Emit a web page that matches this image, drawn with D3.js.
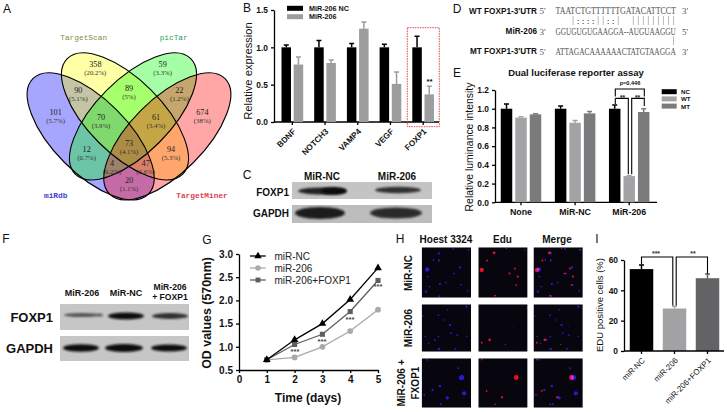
<!DOCTYPE html>
<html>
<head>
<meta charset="utf-8">
<script src="https://cdn.jsdelivr.net/npm/d3@7"></script>
<style>
  html, body { margin: 0; padding: 0; background: #fff; }
  svg { display: block; }
  text { font-family: "Liberation Sans", Arial, sans-serif; fill: #111; }
  .domain, .tick line { stroke: #000; stroke-width: 1.3; }
  .bold { font-weight: bold; }
</style>
</head>
<body>
<script>
const w = 727;
const h = 412;

// ---- data ----
const vennCounts = ["358","59","90","89","22","101","70","61","674","73","12","94","4","47","20"];
const vennPercents = ["(20.2%)","(3.3%)","(5.1%)","(5%)","(1.2%)","(5.7%)","(3.9%)","(3.4%)","(38%)","(4.1%)","(0.7%)","(5.3%)","(0.2%)","(2.6%)","(1.1%)"];
const vennSets = ["miRdb","TargetScan","picTar","TargetMiner"];

const genes = ["BDNF","NOTCH3","VAMP4","VEGF","FOXP1"];
const bSeries = ["MiR-206 NC","MiR-206"];
const bNC = [1,1,1,1,1];
const bNCErr = [0.03,0.09,0.05,0.04,0.15];
const b206 = [0.77,0.79,1.25,0.51,0.37];
const b206Err = [0.1,0.04,0.09,0.16,0.11];

const seqWT = "TAATCTGTTTTTTGATACATTCCT";
const seqMiR = "GGUGUGUGAAGGA--AUGUAAGGU";
const seqMT = "ATTAGACAAAAAACTATGTAAGGA";
const seqPairs = "   |::::||::|  |||||||||";

const eGroups = ["None","MiR-NC","MiR-206"];
const eSeries = ["NC","WT","MT"];
const eNC = [1,1,1];
const eNCErr = [0.05,0.03,0.04];
const eWT = [0.905,0.85,0.28];
const eWTErr = [0.01,0.025,0.005];
const eMT = [0.94,0.95,0.965];
const eMTErr = [0.005,0.02,0.035];

const days = [1,2,3,4,5];
const gSeries = ["miR-NC","miR-206","miR-206+FOXP1"];
const gNC = [0.72,1.15,1.5,2.02,2.7];
const g206 = [0.72,0.77,1.0,1.34,1.8];
const gFoxp1 = [0.72,1.05,1.27,1.76,2.43];

const iGroups = ["miR-NC","miR-206","miR-206+FOXP1"];
const iValues = [54,28,48];
const iErrs = [2.7,1.5,2.8];

// cells in panel H, percent of the image: [x, y, size]
const hoechst = [
  [[11,44,3],[35,12,1.6],[24,25,1.2],[35,26,1.5],[64,3,1.2],[78,40,1.6],[95,5,1.2],[66,52,1.2],[12,58,1.2],[37,73,1.6],[49,70,1.2],[16,78,1.2],[9,88,1.5],[36,97,1.3],[80,74,1.3],[93,86,1.2]],
  [[34,23,1.2],[57,44,1.5],[45,33,1],[2,24,1],[91,5,1.5],[72,65,1.2],[59,61,1.2],[34,68,1.2],[27,75,1.3],[14,82,1],[35,94,1.7],[68,94,1.3],[52,12,1],[91,68,1],[7,68,1]],
  [[11,3,1.2],[81,39,3.6],[86,71,2.8],[52,80,2.2],[74,20,1.2],[37,56,1.7],[22,64,1.5],[5,74,1.3],[39,93,1.5]]
];
const edu = [
  [[7,45,3],[32,11,2],[18,26,1.4],[74,42,1.4],[63,52,1.4],[80,58,1.6],[77,75,1.3],[34,96,1.2],[94,5,.8],[57,2,.8]],
  [[7,81,1.3],[23,75,1.9],[55,85,.8],[71,47,.6],[98,8,.7]],
  [[77,39,3.4],[17,66,1.2],[48,79,1.6],[34,93,1],[7,3,1]]
];

const svg = d3.select("body").append("svg").attr("width", w).attr("height", h);
const defs = svg.append("defs");
[0.6, 1.2, 2].forEach((s) => {
  defs.append("filter").attr("id", "blur" + String(s).replace(".", ""))
    .attr("x", "-30%").attr("y", "-60%").attr("width", "160%").attr("height", "220%")
    .append("feGaussianBlur").attr("stdDeviation", s);
});

function label(x, y, str, size, opts) {
  opts = opts || {};
  const t = svg.append("text")
    .attr("x", x).attr("y", y)
    .attr("font-size", size)
    .attr("text-anchor", opts.anchor || "middle")
    .attr("dominant-baseline", "central")
    .text(str);
  if (opts.bold) t.classed("bold", true);
  if (opts.color) t.style("fill", opts.color);
  if (opts.font) t.style("font-family", opts.font);
  if (opts.rotate) t.attr("transform", `rotate(${opts.rotate} ${x} ${y})`);
  return t;
}

// panel letters
[["A",7,9],["B",247,8],["C",247,175],["D",457,9],["E",457,73],["F",6,239],["G",207,240],["H",400,239],["I",597,239]]
  .forEach((d) => label(d[1], d[2], d[0], 12));

// ---- A: venn ----
const vennFont = '"Liberation Serif", serif';
const vx = d3.scaleLinear().domain([0, 720]).range([0, 240]);
const vy = d3.scaleLinear().domain([0, 660]).range([0, 220]);
const vennShapes = [
  { cx: 272, cy: 409, a: 45, c: "#0000ff" },
  { cx: 375, cy: 349, a: 45, c: "#ffff00" },
  { cx: 399, cy: 349, a: -45, c: "#00ff00" },
  { cx: 502, cy: 409, a: -45, c: "#ff0000" }
];
const vennRx = 245;
const vennRy = 111;
svg.selectAll("ellipse.venn").data(vennShapes).join("ellipse").attr("class", "venn")
  .attr("rx", vx(vennRx)).attr("ry", vy(vennRy))
  .attr("transform", (d) => `translate(${vx(d.cx)},${vy(d.cy)}) rotate(${d.a})`)
  .attr("fill", (d) => d.c).attr("fill-opacity", 0.35);
svg.selectAll("ellipse.vennline").data(vennShapes).join("ellipse").attr("class", "vennline")
  .attr("rx", vx(vennRx)).attr("ry", vy(vennRy))
  .attr("transform", (d) => `translate(${vx(d.cx)},${vy(d.cy)}) rotate(${d.a})`)
  .attr("fill", "none").attr("stroke", "#000").attr("stroke-width", 1.1);
const vennSpots = [[286,193],[488,193],[235,270],[387,264],[538,270],[167,336],[303,353],[468,353],[607,336],[387,430],[260,447],[513,447],[336,490],[437,490],[387,540]];
vennCounts.forEach((c, i) => {
  label(vx(vennSpots[i][0]), vy(vennSpots[i][1]), c, 8.2, { font: vennFont, color: "#222" });
  label(vx(vennSpots[i][0]), vy(vennSpots[i][1] + 24), vennPercents[i], 6.8, { font: vennFont, color: "#333" });
});
const setSpots = [[167,588,"#3c3cd8"],[251,113,"#8a8a48"],[521,113,"#2f9f62"],[606,588,"#e0404f"]];
vennSets.forEach((s, i) => label(vx(setSpots[i][0]), vy(setSpots[i][1]), s, 7.8, { font: '"Liberation Mono", monospace', color: setSpots[i][2], bold: i === 0 || i === 3 }));

// bars with a one sided error whisker
function bars(x, y, values, errs, color, barW, offset) {
  const g = svg.append("g");
  values.forEach((v, i) => {
    const cx = x(i) + offset;
    g.append("rect").attr("x", cx - barW / 2).attr("y", y(v))
      .attr("width", barW).attr("height", y(0) - y(v)).attr("fill", color);
    g.append("path")
      .attr("d", `M${cx},${y(v)}V${y(v + errs[i])}M${cx - 2.5},${y(v + errs[i])}H${cx + 2.5}`)
      .attr("stroke", color).attr("stroke-width", 1.5).attr("fill", "none");
  });
}

function yAxis(x, scale, values, fmt, size) {
  const g = svg.append("g").attr("transform", `translate(${x},0)`)
    .call(d3.axisLeft(scale).tickValues(values).tickFormat(fmt).tickSize(3).tickSizeOuter(0));
  g.selectAll("text").attr("font-size", size).attr("font-weight", "bold");
  return g;
}

// ---- B ----
const bY = d3.scaleLinear().domain([0, 1.5]).range([122, 10]);
const bX = d3.scaleBand().domain(d3.range(genes.length)).range([276, 439.5]);
const bOff = 6.1;
yAxis(274, bY, [0, 0.5, 1, 1.5], d3.format(".1f"), 8.4);
svg.append("path").attr("d", `M274,122H439`).attr("stroke", "#000").attr("stroke-width", 1.3);
bars((i) => bX(i) + bX.bandwidth() / 2, bY, bNC, bNCErr, "#000", 9.5, -6.1);
bars((i) => bX(i) + bX.bandwidth() / 2, bY, b206, b206Err, "#9d9d9f", 9.5, bOff);
genes.forEach((g, i) => {
  const cx = bX(i) + bX.bandwidth() / 2;
  svg.append("path").attr("d", `M${cx},122v3`).attr("stroke", "#000").attr("stroke-width", 1.3);
  label(cx, 128, g, 8.2, { anchor: "end", bold: true, rotate: -45 }).attr("dominant-baseline", "hanging");
});
label(248, 71, "Relative expression", 11.2, { rotate: -90 });
bSeries.forEach((s, i) => {
  svg.append("rect").attr("x", 287).attr("y", 5.8 + i * 8.4).attr("width", 16).attr("height", 5).attr("fill", i ? "#9d9d9f" : "#000");
  label(309, 8.3 + i * 8.4, s, 7.2, { anchor: "start", bold: true });
});
svg.append("rect").attr("x", 407.3).attr("y", 27.7).attr("width", 32).attr("height", 99)
  .attr("fill", "none").attr("stroke", "#d6333a").attr("stroke-width", 0.9).attr("stroke-dasharray", "1.5,1");
label(429.6, 81, "**", 8, { bold: true });

// western blot strip: background plus blurred dark bands
function blot(x, y, bw, bh, bg, bands) {
  svg.append("rect").attr("x", x).attr("y", y).attr("width", bw).attr("height", bh).attr("fill", bg);
  const clipId = "clip" + Math.round(x) + "_" + Math.round(y);
  defs.append("clipPath").attr("id", clipId).append("rect").attr("x", x).attr("y", y).attr("width", bw).attr("height", bh);
  const g = svg.append("g").attr("clip-path", `url(#${clipId})`);
  bands.forEach((b) => {
    g.append("ellipse").attr("cx", b[0]).attr("cy", b[1]).attr("rx", b[2]).attr("ry", b[3])
      .attr("fill", b[4]).attr("filter", "url(#blur12)");
  });
}

// ---- C ----
blot(292, 182, 140, 17, "#c4c4c4", [[322,191,24,3.5,"#222"],[334,191,13,3.8,"#111"],[398,190,23,3.3,"#333"]]);
blot(292, 205, 140, 18, "#bdbdbd", [[320,213,25,6,"#1a1a1a"],[396,213,26,5.5,"#2a2a2a"]]);
label(289, 192, "FOXP1", 10, { anchor: "end", bold: true });
label(289, 213, "GAPDH", 10, { anchor: "end", bold: true });
label(322, 176, "MiR-NC", 10, { bold: true });
label(397, 176, "MiR-206", 10, { bold: true });

// ---- D ----
const seqFont = '"Liberation Serif", serif';
const seqX = d3.scaleBand().domain(d3.range(24)).range([555.5, 676]);
function seqRow(name, seq, y, left, right) {
  label(537, y, name, 8.2, { anchor: "end", bold: true });
  label(539.5, y, left, 9, { anchor: "start", font: seqFont, color: "#555" });
  label(682, y, right, 9, { anchor: "start", font: seqFont, color: "#555" });
  // squeeze the letters to the width of the alignment columns
  const t = label(0, 0, seq, 9.5, { anchor: "start", font: seqFont, color: "#555" });
  const k = 120.5 / t.node().getComputedTextLength();
  t.attr("transform", `translate(555.5,${y}) scale(${k},1)`);
}
seqRow("WT FOXP1-3'UTR", seqWT, 11, "5'", "3'");
seqRow("MiR-206", seqMiR, 31.5, "3'", "5'");
seqRow("MT FOXP1-3'UTR", seqMT, 51.5, "5'", "3'");
seqPairs.split("").forEach((p, i) => {
  const cx = seqX(i) + seqX.bandwidth() / 2;
  if (p === "|") svg.append("path").attr("d", `M${cx},16V25`).attr("stroke", "#a9a9a9").attr("stroke-width", 0.8);
  if (p === ":") label(cx, 21, ":", 7, { bold: true, color: "#444" });
});
svg.append("path").attr("d", `M${seqX(23) + 2.5},36V45`).attr("stroke", "#a9a9a9").attr("stroke-width", 0.8);

// ---- E ----
const eY = d3.scaleLinear().domain([0, 1.2]).range([202.3, 90]);
const eCenter = (i) => 521 + i * 54.1;
const eColors = ["#000", "#a3a3a5", "#7b7b7d"];
yAxis(495, eY, [0, 0.2, 0.4, 0.6, 0.8, 1, 1.2], d3.format(".1f"), 8.4);
svg.append("path").attr("d", "M495,202.3H657").attr("stroke", "#000").attr("stroke-width", 1.3);
bars(eCenter, eY, eNC, eNCErr, eColors[0], 11.5, -14.5);
bars(eCenter, eY, eWT, eWTErr, eColors[1], 11.5, 0);
bars(eCenter, eY, eMT, eMTErr, eColors[2], 11.5, 14.5);
eGroups.forEach((g, i) => {
  svg.append("path").attr("d", `M${eCenter(i)},202.3v3`).attr("stroke", "#000").attr("stroke-width", 1.3);
  label(eCenter(i), 212, g, 8.8, { bold: true });
});
label(469, 147, "Relative luminance intensity", 10.4, { rotate: -90 });
label(576, 72, "Dual luciferase reporter assay", 9.5, { bold: true });
label(630, 83, "p=0.446", 5.6, { bold: true });
const eBrackets = `M615.3,${eY(1.13)}V${eY(1.21)}H644.3V${eY(1.13)}` +
  `M615.3,${eY(1.11)}V${eY(1.05)}M615.3,${eY(1.11)}H628.3V${eY(0.3)}M631.7,${eY(0.3)}V${eY(1.11)}H644.3V${eY(1.03)}`;
svg.append("path").attr("d", eBrackets).attr("fill", "none").attr("stroke", "#000").attr("stroke-width", 1.1);
label(622.5, 97, "**", 6.5, { bold: true });
label(637.5, 97, "**", 6.5, { bold: true });
eSeries.forEach((s, i) => {
  svg.append("rect").attr("x", 661.7).attr("y", 89.2 + i * 7.2).attr("width", 15).attr("height", 5).attr("fill", eColors[i]);
  label(681, 91.7 + i * 7.2, s, 6.2, { anchor: "start", bold: true });
});

// ---- F ----
blot(60, 304, 129, 26, "#c6c6c6", [[82,315,18,2,"#555"],[100,315,3,1.6,"#666"],[126,316,18,3.5,"#111"],[170,316,18,3,"#333"]]);
blot(60, 336, 129, 25, "#c6c6c6", [[81,348,18,3.8,"#111"],[124,348,19,4,"#0c0c0c"],[169,348,18,3.5,"#111"]]);
label(53, 317, "FOXP1", 13, { anchor: "end", bold: true });
label(53, 348, "GAPDH", 13, { anchor: "end", bold: true });
label(82, 293, "MiR-206", 9, { bold: true });
label(126, 293, "MiR-NC", 9, { bold: true });
label(170, 286.5, "MiR-206", 8.6, { bold: true });
label(170, 297, "+ FOXP1", 8.6, { bold: true });

// ---- G ----
const gX = d3.scaleLinear().domain([0, 5]).range([239, 378]);
const gY = d3.scaleLinear().domain([0.5, 3]).range([370, 254]);
const gColors = ["#000", "#a9a9a9", "#5e5e5e"];
const gData = [gNC, g206, gFoxp1];
const symbols = [d3.symbolTriangle, d3.symbolCircle, d3.symbolSquare];
const line = d3.line().x((d) => gX(d.day)).y((d) => gY(d.v));
[1, 2, 0].forEach((k) => {
  const pts = days.map((d, i) => ({ day: d, v: gData[k][i] }));
  svg.append("path").attr("d", line(pts)).attr("fill", "none").attr("stroke", gColors[k]).attr("stroke-width", 1.3);
  svg.selectAll(null).data(pts).join("path")
    .attr("d", d3.symbol().type(symbols[k]).size(26))
    .attr("transform", (d) => `translate(${gX(d.day)},${gY(d.v)})`)
    .attr("fill", gColors[k]);
});
yAxis(239, gY, [0.5, 1, 1.5, 2, 2.5, 3], d3.format(".1f"), 10);
const gAxX = svg.append("g").attr("transform", "translate(0,370)")
  .call(d3.axisBottom(gX).tickValues([0, 1, 2, 3, 4, 5]).tickFormat(d3.format("d")).tickSize(3).tickSizeOuter(0));
gAxX.selectAll("text").attr("font-size", 10).attr("font-weight", "bold");
[[295, 351], [322, 341], [350, 319], [378, 286]].forEach((p) => label(p[0], p[1], "***", 7.5, { bold: true, color: "#444" }));
gSeries.forEach((s, i) => {
  const yy = 256 + i * 12;
  svg.append("path").attr("d", `M250,${yy}H265.7`).attr("stroke", gColors[i]).attr("stroke-width", 1.3);
  svg.append("path").attr("d", d3.symbol().type(symbols[i]).size(24)).attr("transform", `translate(258,${yy})`).attr("fill", gColors[i]);
  label(274.5, yy, s, 10, { anchor: "start", color: "#222" });
});
label(207, 313, "OD values (570nm)", 12.4, { bold: true, rotate: -90 });
label(308, 398, "Time (days)", 12, { bold: true });

// ---- H ----
const hCols = [[421.7, "b"], [478.3, "r"], [533.5, "m"]];
const hRows = [[247.3, 50.4], [304.3, 47.4], [358.3, 49.4]];
const hW = 49.3;
hRows.forEach((r, ri) => {
  hCols.forEach((c) => {
    const clipId = `cell${ri}${c[1]}`;
    defs.append("clipPath").attr("id", clipId).append("rect").attr("x", c[0]).attr("y", r[0]).attr("width", hW).attr("height", r[1]);
    const g = svg.append("g").attr("clip-path", `url(#${clipId})`).style("isolation", "isolate");
    g.append("rect").attr("x", c[0]).attr("y", r[0]).attr("width", hW).attr("height", r[1]).attr("fill", "#07050e");
    const px = d3.scaleLinear().domain([0, 100]).range([c[0], c[0] + hW]);
    const py = d3.scaleLinear().domain([0, 100]).range([r[0], r[0] + r[1]]);
    const spots = (list, col) => g.selectAll(null).data(list).join("circle")
      .attr("cx", (d) => px(d[0])).attr("cy", (d) => py(d[1])).attr("r", (d) => d[2] * 0.72)
      .attr("fill", col).attr("filter", "url(#blur06)").style("mix-blend-mode", "screen");
    if (c[1] !== "r") spots(hoechst[ri], "#2418d0");
    if (c[1] !== "b") spots(edu[ri], "#e01018");
  });
});
label(446, 239, "Hoest 3324", 10, { bold: true });
label(502.5, 239, "Edu", 10, { bold: true });
label(557, 239, "Merge", 10, { bold: true });
label(408, 273, "MiR-NC", 10, { bold: true, rotate: -90 });
label(408, 328, "MiR-206", 10, { bold: true, rotate: -90 });
label(401, 383, "MiR-206 +", 10, { bold: true, rotate: -90 });
label(415, 383, "FXOP1", 10, { bold: true, rotate: -90 });

// ---- I ----
const iY = d3.scaleLinear().domain([0, 60]).range([351, 260]);
const iX = d3.scaleBand().domain(d3.range(iGroups.length)).range([625, 724]);
const iColors = ["#000", "#a2a2a4", "#636365"];
const iCenter = (i) => iX(i) + iX.bandwidth() / 2;
iValues.forEach((v, i) => bars(() => iCenter(i), iY, [v], [iErrs[i]], iColors[i], 23.5, 0));
yAxis(624, iY, [0, 20, 40, 60], d3.format("d"), 8.4);
svg.append("path").attr("d", "M624,351H724").attr("stroke", "#000").attr("stroke-width", 1.3);
iGroups.forEach((g, i) => {
  svg.append("path").attr("d", `M${iCenter(i)},351v3`).attr("stroke", "#000").attr("stroke-width", 1.3);
  label(iCenter(i), 357, g, 8, { anchor: "end", rotate: -45 }).attr("dominant-baseline", "hanging");
});
label(599, 305, "EDU positive cells (%)", 9.5, { rotate: -90 });
const iTop = iY(62);
const iBrackets = `M${iCenter(0)},${iY(57)}V${iTop}H${iCenter(1) - 1.7}V${iY(30)}` +
  `M${iCenter(1) + 1.7},${iY(30)}V${iTop}H${iCenter(2)}V${iY(51)}`;
svg.append("path").attr("d", iBrackets).attr("fill", "none").attr("stroke", "#000").attr("stroke-width", 1.1);
label(656, 253, "***", 7, { bold: true, color: "#333" });
label(693, 253, "**", 7, { bold: true, color: "#333" });
</script>
</body>
</html>
